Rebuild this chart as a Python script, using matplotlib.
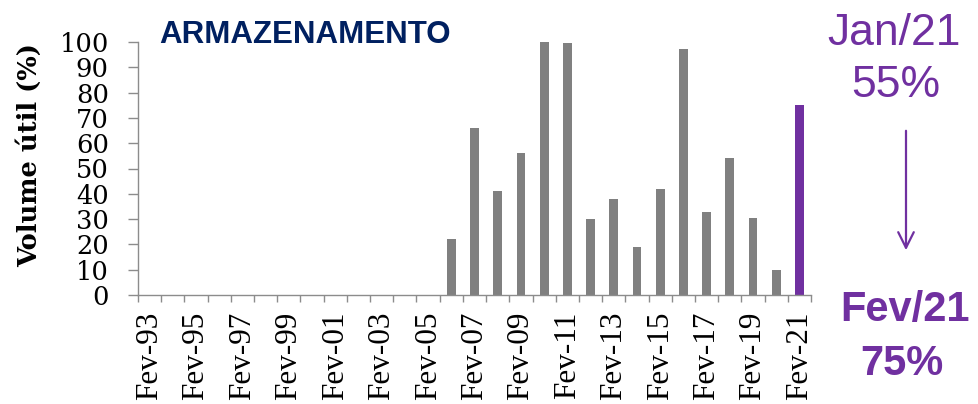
import matplotlib.pyplot as plt
import numpy as np

# ---------------- data ----------------
anos = ["Fev-93", "Fev-94", "Fev-95", "Fev-96", "Fev-97", "Fev-98", "Fev-99", "Fev-00",
        "Fev-01", "Fev-02", "Fev-03", "Fev-04", "Fev-05", "Fev-06", "Fev-07", "Fev-08",
        "Fev-09", "Fev-10", "Fev-11", "Fev-12", "Fev-13", "Fev-14", "Fev-15", "Fev-16",
        "Fev-17", "Fev-18", "Fev-19", "Fev-20", "Fev-21"]
volume = [0, 0, 0, 0, 0, 0, 0, 0, 0, 0, 0, 0, 0,
          22, 66, 41, 56, 100, 99.5, 30, 38, 19, 42, 97.3, 33, 54, 30.5, 10, 75]
yticks = [0, 10, 20, 30, 40, 50, 60, 70, 80, 90, 100]

cinza = "#808080"
roxo = "#7030A0"
azul = "#002060"
eixo = "#8c8c8c"

# ---------------- figure ----------------
fig = plt.figure(figsize=(9.79, 4.04), dpi=100)
ax = fig.add_axes([138/979, 1 - 295/404, (811 - 138)/979, (295 - 42)/404])

x = np.arange(len(anos))
cores = [cinza] * (len(anos) - 1) + [roxo]
ax.bar(x, volume, width=0.38, color=cores)

ax.set_xlim(-0.5, len(anos) - 0.5)
ax.set_ylim(0, 100)

# x ticks: labels every other year, tick marks at category borders
ax.set_xticks(x[::2])
ax.set_xticklabels(anos[::2], rotation=90, family="Liberation Serif", fontsize=22.5)
ax.set_xticks(np.arange(len(anos) + 1) - 0.5, minor=True)
ax.tick_params(axis="x", which="major", length=0, pad=12)
ax.tick_params(axis="x", which="minor", length=5, color=eixo, width=1)

ax.set_yticks(yticks)
ax.set_yticklabels([str(v) for v in yticks], family="DejaVu Serif", fontsize=18.5)
ax.tick_params(axis="y", length=7, color=eixo, width=1, pad=14)

for s in ["top", "right"]:
    ax.spines[s].set_visible(False)
for s in ["left", "bottom"]:
    ax.spines[s].set_color(eixo)
    ax.spines[s].set_linewidth(1)

ax.set_ylabel("Volume útil (%)", family="DejaVu Serif", fontweight="bold", fontsize=18.5)
ax.yaxis.set_label_coords(-0.143, 0.555)

# title
fig.text(159/979, 1 - 43/404, "ARMAZENAMENTO", family=["Liberation Sans Narrow", "Liberation Sans"],
         fontweight="bold", fontsize=22.5, color=azul, va="baseline", ha="left")

# right annotations
fig.text(894/979, 1 - 45/404, "Jan/21", family="Liberation Sans", fontsize=32, color=roxo,
         ha="center", va="baseline")
fig.text(896/979, 1 - 97/404, "55%", family="Liberation Sans", fontsize=32, color=roxo,
         ha="center", va="baseline")
fig.text(905/979, 1 - 321/404, "Fev/21", family="Liberation Sans", fontweight="bold", fontsize=30,
         color=roxo, ha="center", va="baseline")
fig.text(902/979, 1 - 375/404, "75%", family="Liberation Sans", fontweight="bold", fontsize=30,
         color=roxo, ha="center", va="baseline")
fig.add_artist(plt.matplotlib.patches.FancyArrowPatch(
    (906/979, 1 - 128/404), (906/979, 1 - 253/404), transform=fig.transFigure,
    arrowstyle="->", mutation_scale=28, color=roxo, lw=1.6))

fig.savefig("out.png", dpi=100)
